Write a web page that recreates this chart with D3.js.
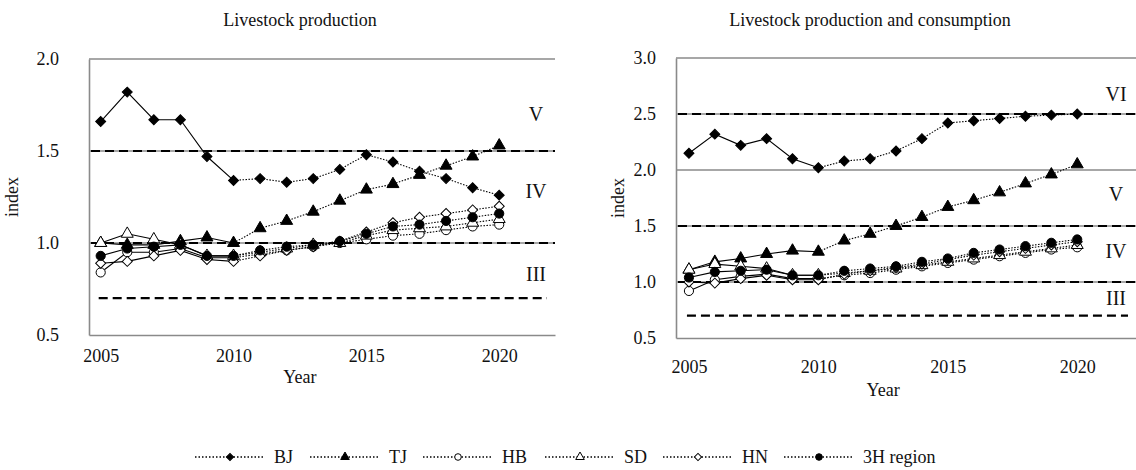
<!DOCTYPE html>
<html>
<head>
<meta charset="utf-8">
<script src="https://cdn.jsdelivr.net/npm/d3@7/dist/d3.min.js"></script>
<style>
  html, body { margin: 0; padding: 0; background: #fff; }
  svg { display: block; }
  svg text { font-family: "Liberation Serif", "Times New Roman", serif; fill: #111; }
</style>
</head>
<body>
<svg id="chart" width="1136" height="470"></svg>
<script>
// ---- data ----------------------------------------------------------------
const years = [2005, 2006, 2007, 2008, 2009, 2010, 2011, 2012, 2013, 2014, 2015, 2016, 2017, 2018, 2019, 2020];
const seriesNames = ["BJ", "TJ", "HB", "SD", "HN", "3H region"];
const xTicks = [2005, 2010, 2015, 2020];

// Livestock production index
const prodBJ = [1.66, 1.82, 1.67, 1.67, 1.47, 1.34, 1.35, 1.33, 1.35, 1.40, 1.48, 1.44, 1.39, 1.35, 1.30, 1.26];
const prodTJ = [1.00, 0.99, 0.99, 1.01, 1.03, 1.00, 1.08, 1.12, 1.17, 1.23, 1.29, 1.32, 1.37, 1.42, 1.47, 1.53];
const prodHB = [0.84, 0.95, 0.95, 0.97, 0.92, 0.92, 0.94, 0.96, 0.98, 1.00, 1.02, 1.04, 1.05, 1.07, 1.09, 1.10];
const prodSD = [1.00, 1.05, 1.02, 0.99, 0.93, 0.93, 0.95, 0.97, 0.99, 1.00, 1.04, 1.07, 1.08, 1.09, 1.11, 1.13];
const prodHN = [0.89, 0.90, 0.93, 0.96, 0.91, 0.90, 0.93, 0.96, 0.98, 1.01, 1.06, 1.11, 1.14, 1.16, 1.18, 1.20];
const prod3H = [0.93, 0.97, 0.98, 0.99, 0.93, 0.93, 0.96, 0.98, 0.99, 1.01, 1.05, 1.09, 1.10, 1.12, 1.14, 1.16];
const prodYTicks = [0.5, 1.0, 1.5, 2.0];
const prodGrid = [1.0, 1.5, 2.0];
const prodDashed = [1.5, 1.0];
const prodLevels = [["V", 1.70], ["IV", 1.28], ["III", 0.83]];

// Livestock production and consumption index
const pcBJ = [2.15, 2.32, 2.22, 2.28, 2.10, 2.02, 2.08, 2.10, 2.17, 2.28, 2.42, 2.44, 2.46, 2.48, 2.49, 2.50];
const pcTJ = [1.11, 1.18, 1.21, 1.25, 1.28, 1.27, 1.37, 1.43, 1.50, 1.58, 1.67, 1.73, 1.80, 1.88, 1.96, 2.05];
const pcHB = [0.92, 1.02, 1.05, 1.07, 1.03, 1.03, 1.06, 1.08, 1.11, 1.14, 1.17, 1.20, 1.23, 1.26, 1.29, 1.31];
const pcSD = [1.11, 1.16, 1.14, 1.12, 1.06, 1.06, 1.08, 1.10, 1.12, 1.15, 1.18, 1.21, 1.24, 1.27, 1.30, 1.33];
const pcHN = [1.00, 0.99, 1.03, 1.06, 1.02, 1.02, 1.07, 1.10, 1.13, 1.16, 1.20, 1.24, 1.27, 1.30, 1.33, 1.36];
const pc3H = [1.04, 1.09, 1.10, 1.11, 1.06, 1.06, 1.10, 1.12, 1.14, 1.18, 1.21, 1.26, 1.29, 1.32, 1.35, 1.38];
const pcYTicks = [0.5, 1.0, 1.5, 2.0, 2.5, 3.0];
const pcGrid = [1.0, 1.5, 2.0, 2.5, 3.0];
const pcDashed = [2.5, 1.5, 1.0];
const pcLevels = [["VI", 2.68], ["V", 1.79], ["IV", 1.28], ["III", 0.86]];

const lowerBound = 0.7;    // dashed threshold drawn from the first year
const lastObserved = 2010; // solid up to here, dotted afterwards

// ---- drawing -------------------------------------------------------------
const svg = d3.select("#chart");
const GRAY = "#8a8a8a";
const SERIF = '"Liberation Serif", "Times New Roman", serif';

const markerShapes = {
  "BJ":        { type: d3.symbolSquare,   size: 50, fill: "#000", rotate: 45 },
  "TJ":        { type: d3.symbolTriangle, size: 62, fill: "#000", rotate: 0 },
  "HB":        { type: d3.symbolCircle,   size: 66, fill: "#fff", rotate: 0 },
  "SD":        { type: d3.symbolTriangle, size: 62, fill: "#fff", rotate: 0 },
  "HN":        { type: d3.symbolSquare,   size: 50, fill: "#fff", rotate: 45 },
  "3H region": { type: d3.symbolCircle,   size: 66, fill: "#000", rotate: 0 }
};

function drawMarker(g, name, x, y, scale) {
  const m = markerShapes[name];
  g.append("path")
    .attr("d", d3.symbol().type(m.type).size(m.size * scale * scale)())
    .attr("transform", `translate(${x},${y}) rotate(${m.rotate})`)
    .attr("fill", m.fill)
    .attr("stroke", "#000")
    .attr("stroke-width", 1);
}

function styleAxis(sel) {
  sel.attr("font-family", SERIF).attr("font-size", 18);
  sel.select(".domain").attr("stroke", GRAY).attr("stroke-width", 1.6);
  sel.selectAll("text").style("font-family", SERIF).style("font-size", "18px").attr("fill", "#111");
}

function panel(cfg) {
  const g = svg.append("g");
  const x = d3.scaleLinear().domain(cfg.xDomain).range([cfg.left, cfg.right]);
  const y = d3.scaleLinear().domain([cfg.yTicks[0], cfg.yTicks[cfg.yTicks.length - 1]]).range([cfg.bottom, cfg.top]);

  // title
  g.append("text").attr("x", cfg.titleX).attr("y", 26)
    .attr("text-anchor", "middle").style("font-size", "18px").text(cfg.title);

  // gray grid lines and frame
  g.selectAll(".grid").data(cfg.grid).enter().append("line")
    .attr("x1", cfg.left).attr("x2", cfg.right)
    .attr("y1", d => y(d)).attr("y2", d => y(d))
    .attr("stroke", GRAY).attr("stroke-width", 1.6);

  const yAxis = d3.axisLeft(y).tickValues(cfg.yTicks).tickFormat(d3.format(".1f")).tickSize(0).tickPadding(cfg.yPad);
  g.append("g").attr("transform", `translate(${cfg.left},0)`).call(yAxis).call(styleAxis);

  const xAxis = d3.axisBottom(x).tickValues(xTicks).tickFormat(d3.format("d")).tickSize(0).tickPadding(cfg.xPad);
  g.append("g").attr("transform", `translate(0,${cfg.bottom})`).call(xAxis).call(styleAxis);

  // axis titles
  g.append("text").attr("x", (x(xTicks[0]) + x(xTicks[xTicks.length - 1])) / 2).attr("y", cfg.bottom + cfg.yearGap)
    .attr("text-anchor", "middle").style("font-size", "18px").text("Year");
  g.append("text").attr("transform", `translate(${cfg.indexX},${(cfg.top + cfg.bottom) / 2}) rotate(-90)`)
    .attr("text-anchor", "middle").style("font-size", "18px").text("index");

  // black dashed threshold lines
  g.selectAll(".dash").data(cfg.dashed).enter().append("line")
    .attr("x1", cfg.left + 2).attr("x2", cfg.right)
    .attr("y1", d => y(d)).attr("y2", d => y(d))
    .attr("stroke", "#000").attr("stroke-width", 2.2).attr("stroke-dasharray", "9,5");
  g.append("line")
    .attr("x1", x(years[0]) - 2).attr("x2", cfg.right - 8)
    .attr("y1", y(lowerBound)).attr("y2", y(lowerBound))
    .attr("stroke", "#000").attr("stroke-width", 2.2).attr("stroke-dasharray", "9,5");

  // level labels
  g.selectAll(".lvl").data(cfg.levels).enter().append("text")
    .attr("x", cfg.levelX).attr("y", d => y(d[1]))
    .attr("dy", "0.35em").attr("text-anchor", "middle").style("font-size", "20px")
    .text(d => d[0]);

  // series
  const line = d3.line().x(d => x(d[0])).y(d => y(d[1]));
  cfg.series.forEach((vals, i) => {
    const name = seriesNames[i];
    const pts = years.map((yr, j) => [yr, vals[j]]);
    const observed = pts.filter(p => p[0] <= lastObserved);
    const projected = pts.filter(p => p[0] >= lastObserved);
    g.append("path").attr("d", line(observed)).attr("fill", "none")
      .attr("stroke", "#000").attr("stroke-width", 1.1);
    g.append("path").attr("d", line(projected)).attr("fill", "none")
      .attr("stroke", "#000").attr("stroke-width", 1.1).attr("stroke-dasharray", "1.5,1.5");
    pts.forEach(p => drawMarker(g, name, x(p[0]), y(p[1]), 1));
  });
}

panel({
  title: "Livestock production", titleX: 300,
  left: 89, right: 555, top: 59, bottom: 335,
  xDomain: [2004.56, 2022.1],
  yTicks: prodYTicks, grid: prodGrid, dashed: prodDashed, levels: prodLevels,
  levelX: 536, yPad: 30, xPad: 14, yearGap: 48, indexX: 18,
  series: [prodBJ, prodTJ, prodHB, prodSD, prodHN, prod3H]
});

panel({
  title: "Livestock production and consumption", titleX: 870,
  left: 676, right: 1136, top: 58, bottom: 338,
  xDomain: [2004.5, 2022.27],
  yTicks: pcYTicks, grid: pcGrid, dashed: pcDashed, levels: pcLevels,
  levelX: 1116, yPad: 20, xPad: 22, yearGap: 58, indexX: 624,
  series: [pcBJ, pcTJ, pcHB, pcSD, pcHN, pc3H]
});

// ---- legend ----------------------------------------------------------------
const legendStarts = [195, 310, 423, 545, 663, 784];
const legend = svg.append("g");
seriesNames.forEach((name, i) => {
  const x0 = legendStarts[i], yL = 457;
  legend.append("line").attr("x1", x0).attr("x2", x0 + 68).attr("y1", yL).attr("y2", yL)
    .attr("stroke", "#000").attr("stroke-width", 1.3).attr("stroke-dasharray", "1.5,2");
  drawMarker(legend, name, x0 + 35, yL, 0.72);
  legend.append("text").attr("x", x0 + 79).attr("y", yL).attr("dy", "0.35em")
    .style("font-size", "18px").text(name);
});
</script>
</body>
</html>
